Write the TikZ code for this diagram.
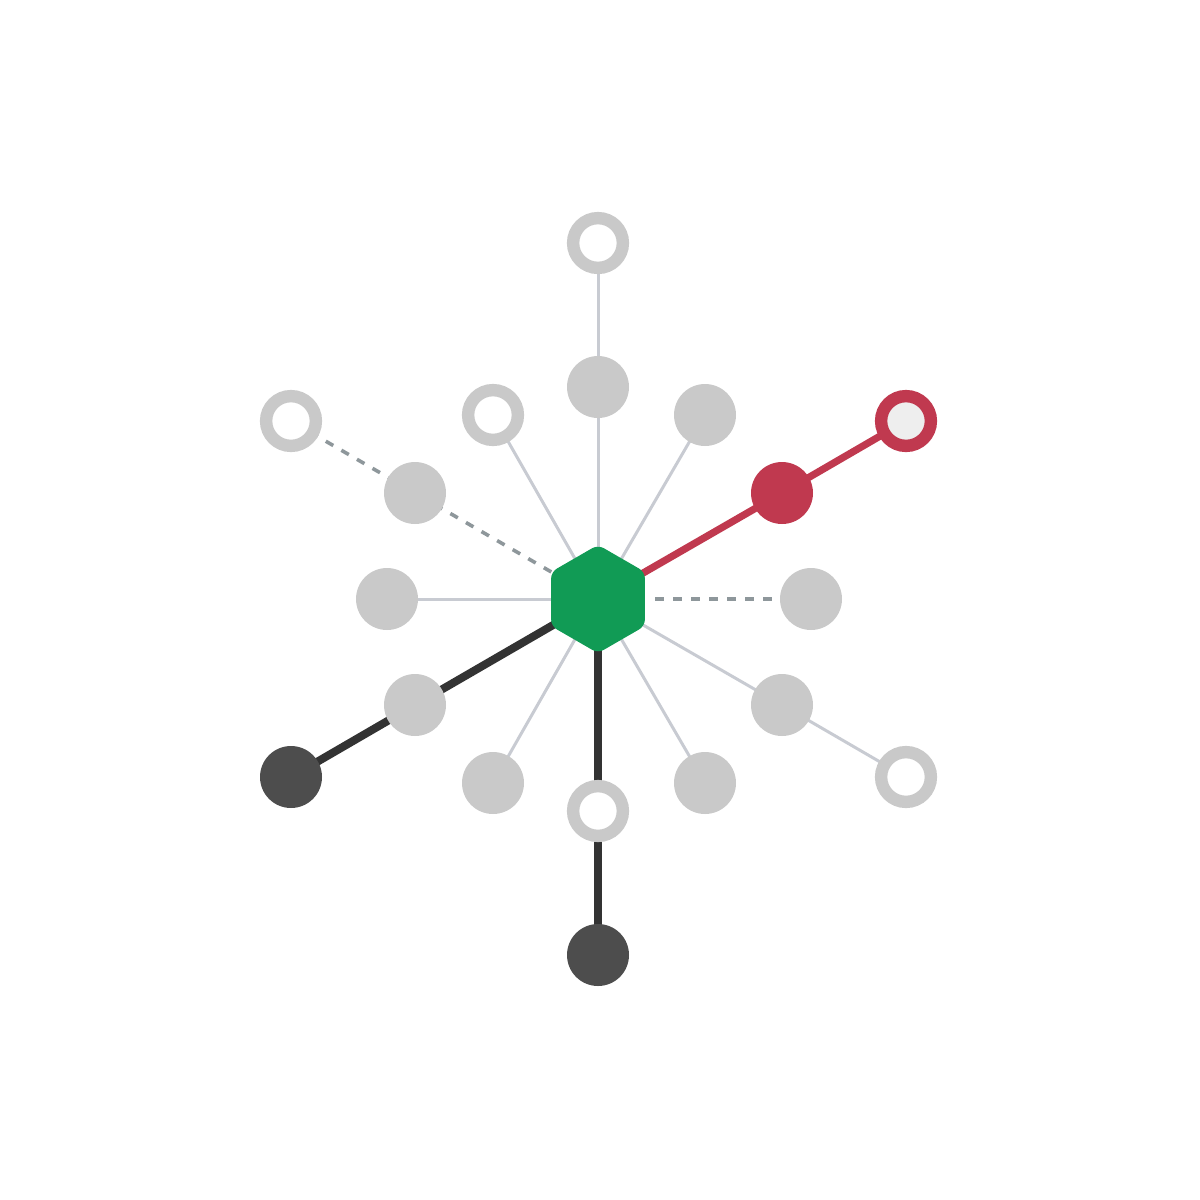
\documentclass[tikz,border=0pt]{standalone}
\usetikzlibrary{shapes.geometric}
\definecolor{nodegray}{HTML}{C9C9C9}
\definecolor{thingray}{HTML}{C8CBD2}
\definecolor{dashgray}{HTML}{8E979B}
\definecolor{hubgreen}{HTML}{119B55}
\definecolor{redc}{HTML}{C0394F}
\definecolor{darkline}{HTML}{333333}
\definecolor{darknode}{HTML}{4D4D4D}
\definecolor{palefill}{HTML}{EEEEEE}
\tikzset{
  filled/.style={circle, inner sep=0pt, minimum size=31pt, fill=nodegray, draw=none},
  ring/.style={circle, inner sep=0pt, minimum size=24.9pt, fill=white, draw=nodegray, line width=6.2pt},
  redfilled/.style={filled, fill=redc},
  redring/.style={ring, draw=redc, fill=palefill},
  darkfilled/.style={filled, fill=darknode},
  hub/.style={regular polygon, regular polygon sides=6, shape border rotate=30, inner sep=0pt, minimum size=53pt, fill=hubgreen, draw=hubgreen, line width=1pt, rounded corners=3pt},
  thin/.style={draw=thingray, line width=1.5pt},
  dashedline/.style={draw=dashgray, line width=1.8pt, dash pattern=on 4.3pt off 4.7pt},
  redline/.style={draw=redc, line width=3.6pt},
  darkedge/.style={draw=darkline, line width=4pt}
}
\begin{document}
\begin{tikzpicture}[x=0.5pt,y=-0.5pt]
\useasboundingbox (0,0) rectangle (1200,1200);
% coordinates
\coordinate (c) at (598,599);
% lines first
\draw[thin] (c) -- (598,387) coordinate (pn1) -- (598,243) coordinate (pr1);
\draw[thin] (c) -- (705,415) coordinate (pn2);
\draw[thin] (c) -- (493,415) coordinate (pr3);
\draw[dashedline] (c) -- (415,493) coordinate (pn4) -- (291,421) coordinate (pr4);
\draw[redline] (c) -- (782,493) coordinate (pn5) -- (906,421) coordinate (pr5);
\draw[thin] (c) -- (387,599) coordinate (pn6);
\draw[dashedline] (655,599) coordinate (ds7) -- (811,599) coordinate (pn7);
\draw[darkedge] (c) -- (415,705) coordinate (pn8) -- (291,777) coordinate (pd8);
\draw[thin] (c) -- (782,705) coordinate (pn9) -- (906,777) coordinate (pr9);
\draw[thin] (c) -- (493,783) coordinate (pn10);
\draw[thin] (c) -- (705,783) coordinate (pn11);
\draw[darkedge] (c) -- (598,811) coordinate (pr12) -- (598,955) coordinate (pd12);
% nodes
\node[filled] (n1) at (pn1) {};
\node[ring] (r1) at (pr1) {};
\node[filled] (n2) at (pn2) {};
\node[ring] (r3) at (pr3) {};
\node[filled] (n4) at (pn4) {};
\node[ring] (r4) at (pr4) {};
\node[redfilled] (n5) at (pn5) {};
\node[redring] (r5) at (pr5) {};
\node[filled] (n6) at (pn6) {};
\node[filled] (n7) at (pn7) {};
\node[filled] (n8) at (pn8) {};
\node[darkfilled] (d8) at (pd8) {};
\node[filled] (n9) at (pn9) {};
\node[ring] (r9) at (pr9) {};
\node[filled] (n10) at (pn10) {};
\node[filled] (n11) at (pn11) {};
\node[ring] (r12) at (pr12) {};
\node[darkfilled] (d12) at (pd12) {};
\node[hub] (hub) at (c) {};
\end{tikzpicture}
\end{document}
